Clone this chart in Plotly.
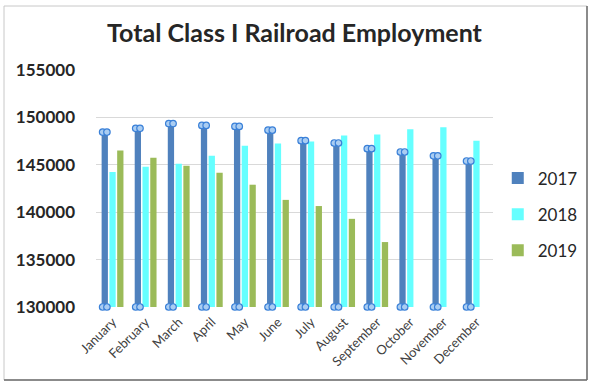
import plotly.graph_objects as go

months = ["January", "February", "March", "April", "May", "June", "July",
          "August", "September", "October", "November", "December"]
emp_2017 = [148450, 148850, 149350, 149150, 149050, 148650, 147550, 147300,
            146700, 146350, 145950, 145400]
emp_2018 = [144250, 144800, 145100, 145950, 147000, 147250, 147450, 148100,
            148200, 148750, 148950, 147550]
emp_2019 = [146500, 145750, 144900, 144150, 142900, 141300, 140650, 139300,
            136850, None, None, None]

y_min, y_max = 130000, 155000
x_idx = list(range(len(months)))

bar_w = 0.19
offsets = {"2017": -0.33, "2018": -0.095, "2019": 0.14}
colors = {"2017": "#4F81BD", "2018": "#66FFFF", "2019": "#9BBB59"}
series = {"2017": emp_2017, "2018": emp_2018, "2019": emp_2019}

fig = go.Figure()
for name, vals in series.items():
    fig.add_trace(go.Bar(
        x=x_idx, y=[None if v is None else v - y_min for v in vals], base=y_min,
        name=name, width=bar_w, offset=offsets[name],
        marker=dict(color=colors[name], line=dict(width=0)),
        legendgroup=name,
    ))

# selection handles on the 2017 series (as in the reference screenshot)
hx, hy = [], []
for i, v in zip(x_idx, emp_2017):
    for dx in (offsets["2017"] + 0.03, offsets["2017"] + bar_w - 0.03):
        hx += [i + dx, i + dx]
        hy += [v, y_min]
fig.add_trace(go.Scatter(
    x=hx, y=hy, mode="markers", showlegend=False, hoverinfo="skip",
    marker=dict(size=6.5, color="#AACDF2", line=dict(color="#3A80D8", width=1.2)),
    cliponaxis=False,
))

fig.update_layout(
    width=592, height=383,
    margin=dict(l=96, r=99, t=70, b=76, autoexpand=False),
    paper_bgcolor="white", plot_bgcolor="white",
    title=dict(text="<b>Total Class I Railroad Employment</b>",
               font=dict(family="Lato", size=25, color="#262626"),
               x=0.5, xref="paper", y=1 - 33 / 383, yref="container",
               xanchor="center", yanchor="middle"),
    legend=dict(x=1.012, y=0.39, xanchor="left", yanchor="middle",
                font=dict(family="Lato", size=17, color="#262626"),
                traceorder="grouped", tracegroupgap=11,
                itemsizing="constant", bgcolor="rgba(0,0,0,0)"),
    showlegend=True,
    barmode="overlay",
)
fig.update_xaxes(
    range=[-0.5, 11.5], tickmode="array", tickvals=x_idx, ticktext=months,
    tickangle=-45, showgrid=False, zeroline=False, showline=False,
    tickfont=dict(family="Lato", size=13, color="#404040"), ticks="",
    ticklabelstandoff=4,
)
fig.update_yaxes(
    range=[y_min, y_max], dtick=5000, tick0=y_min, showgrid=True,
    gridcolor="#D9D9D9", gridwidth=1, zeroline=False, showline=False,
    tickformat="d", ticks="", ticklabelstandoff=20,
    tickfont=dict(family="Lato", size=17, color="#262626", weight="bold"),
)

# chart frame
fx0, fx1 = (4 - 96) / 397, (587 - 96) / 397
fy0, fy1 = (307 - 380) / 237, (307 - 6) / 237
fig.add_shape(type="rect", xref="paper", yref="paper",
              x0=fx0, x1=fx1, y0=fy0, y1=fy1,
              line=dict(color="#C8C8C8", width=1))
fig.add_shape(type="line", xref="paper", yref="paper",
              x0=fx0, x1=fx1, y0=fy0, y1=fy0,
              line=dict(color="#6E6E6E", width=1.5))
fig.add_shape(type="line", xref="paper", yref="paper",
              x0=fx1, x1=fx1, y0=fy0, y1=fy1,
              line=dict(color="#6E6E6E", width=1.5))

fig.write_html("out.html", config={"displayModeBar": False},
               post_script="document.body.style.margin='0';document.body.style.padding='0';")
